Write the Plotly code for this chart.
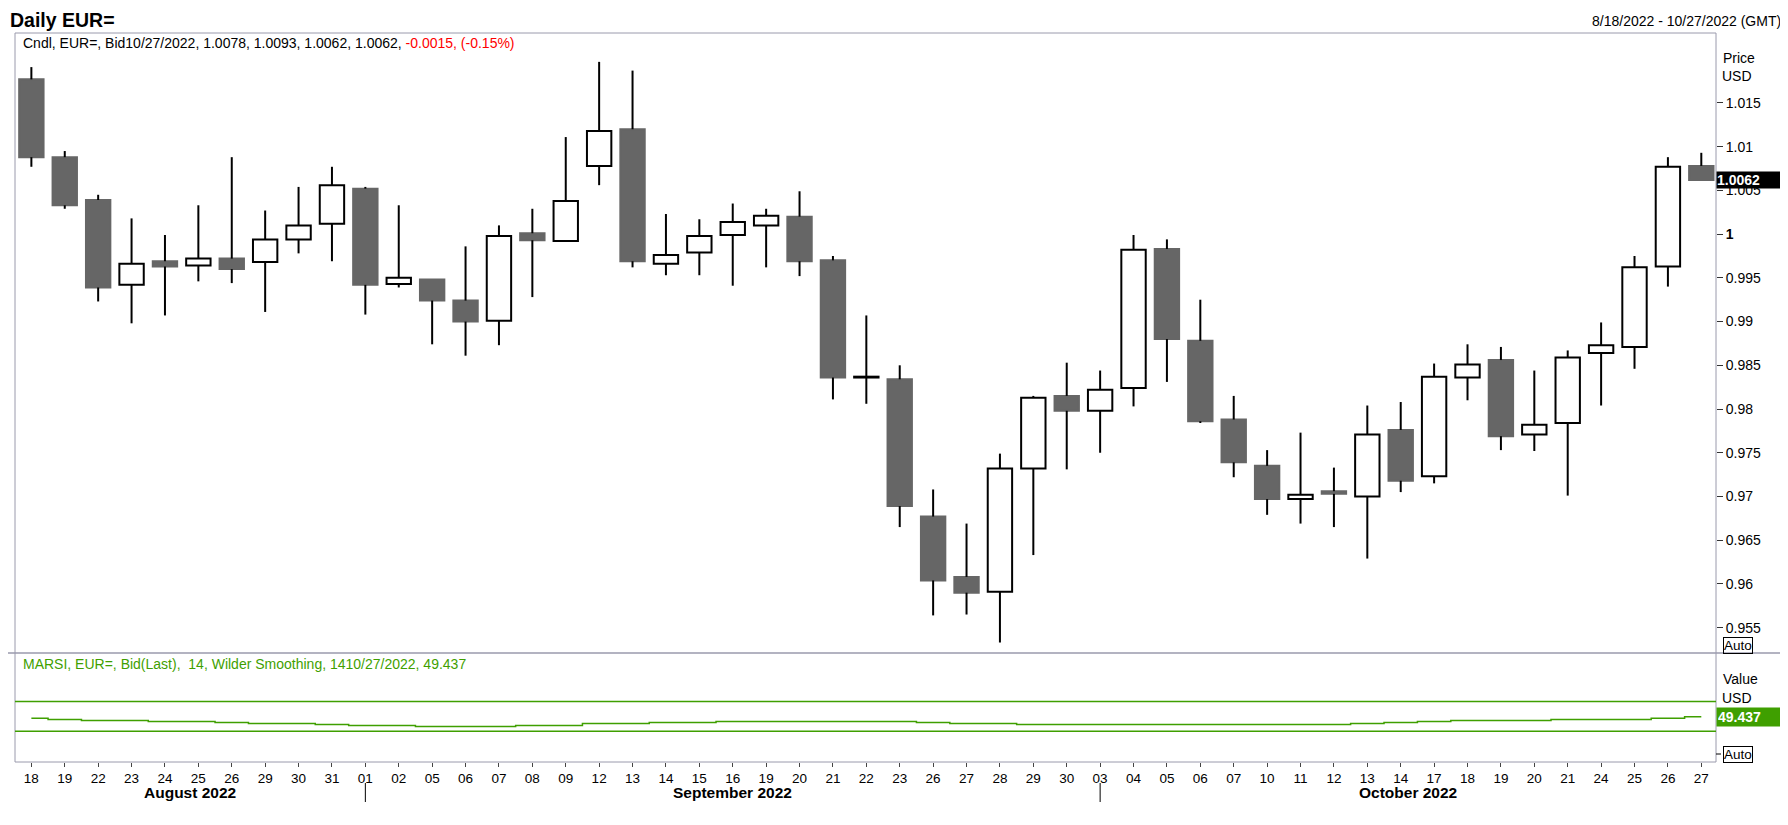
import plotly.graph_objects as go

# ---- data ----
dates = ["2022-08-18", "2022-08-19", "2022-08-22", "2022-08-23", "2022-08-24", "2022-08-25",
         "2022-08-26", "2022-08-29", "2022-08-30", "2022-08-31",
         "2022-09-01", "2022-09-02", "2022-09-05", "2022-09-06", "2022-09-07", "2022-09-08",
         "2022-09-09", "2022-09-12", "2022-09-13", "2022-09-14", "2022-09-15", "2022-09-16",
         "2022-09-19", "2022-09-20", "2022-09-21", "2022-09-22", "2022-09-23", "2022-09-26",
         "2022-09-27", "2022-09-28", "2022-09-29", "2022-09-30",
         "2022-10-03", "2022-10-04", "2022-10-05", "2022-10-06", "2022-10-07", "2022-10-10",
         "2022-10-11", "2022-10-12", "2022-10-13", "2022-10-14", "2022-10-17", "2022-10-18",
         "2022-10-19", "2022-10-20", "2022-10-21", "2022-10-24", "2022-10-25", "2022-10-26",
         "2022-10-27"]

opens = [1.0177, 1.0088, 1.0039, 0.9942, 0.9969, 0.9964, 0.9972, 0.9968, 0.9994, 1.0012,
         1.0052, 0.9943, 0.9948, 0.9924, 0.9901, 1.0001, 0.9992, 1.0078, 1.0120, 0.9966,
         0.9979, 0.9999, 1.0010, 1.0020, 0.9970, 0.9836, 0.9834, 0.9677, 0.9608, 0.9591,
         0.9732, 0.9815, 0.9798, 0.9824, 0.9983, 0.9878, 0.9788, 0.9735, 0.9697, 0.9706,
         0.9700, 0.9776, 0.9723, 0.9836, 0.9856, 0.9771, 0.9784, 0.9864, 0.9871, 0.9963,
         1.0078]
highs = [1.0191, 1.0095, 1.0045, 1.0018, 0.9999, 1.0033, 1.0088, 1.0027, 1.0054, 1.0077,
         1.0054, 1.0033, 0.9948, 0.9986, 1.0010, 1.0029, 1.0111, 1.0197, 1.0187, 1.0023,
         1.0017, 1.0035, 1.0029, 1.0049, 0.9975, 0.9907, 0.9850, 0.9708, 0.9669, 0.9749,
         0.9815, 0.9853, 0.9844, 0.9999, 0.9994, 0.9925, 0.9815, 0.9753, 0.9773, 0.9733,
         0.9804, 0.9808, 0.9852, 0.9874, 0.9871, 0.9844, 0.9867, 0.9899, 0.9975, 1.0088,
         1.0093]
lows = [1.0077, 1.0029, 0.9923, 0.9898, 0.9907, 0.9946, 0.9944, 0.9911, 0.9978, 0.9969,
        0.9908, 0.9939, 0.9874, 0.9861, 0.9873, 0.9928, 0.9992, 1.0056, 0.9962, 0.9953,
        0.9953, 0.9941, 0.9962, 0.9952, 0.9811, 0.9806, 0.9665, 0.9564, 0.9565, 0.9533,
        0.9633, 0.9731, 0.9750, 0.9803, 0.9831, 0.9784, 0.9722, 0.9679, 0.9669, 0.9665,
        0.9629, 0.9705, 0.9715, 0.9810, 0.9753, 0.9752, 0.9701, 0.9804, 0.9846, 0.9940,
        1.0062]
closes = [1.0088, 1.0033, 0.9939, 0.9966, 0.9963, 0.9972, 0.9960, 0.9994, 1.0010, 1.0056,
          0.9942, 0.9950, 0.9924, 0.9900, 0.9998, 0.9993, 1.0038, 1.0118, 0.9969, 0.9976,
          0.9998, 1.0014, 1.0021, 0.9969, 0.9836, 0.9837, 0.9689, 0.9604, 0.9590, 0.9732,
          0.9813, 0.9798, 0.9822, 0.9982, 0.9880, 0.9786, 0.9739, 0.9697, 0.9702, 0.9703,
          0.9771, 0.9718, 0.9837, 0.9851, 0.9769, 0.9782, 0.9859, 0.9873, 0.9962, 1.0077,
          1.0062]

rsi = [47.3, 45.9, 44.5, 44.5, 43.2, 43.2, 41.8, 40.5, 40.5, 39.1,
       37.7, 37.7, 36.4, 36.4, 36.4, 37.7, 37.7, 40.5, 40.5, 41.8,
       41.8, 43.2, 43.2, 43.2, 43.2, 43.2, 43.2, 41.8, 40.5, 40.5,
       39.1, 39.1, 39.1, 39.1, 39.1, 39.1, 39.1, 39.1, 39.1, 39.1,
       40.5, 41.8, 43.2, 44.5, 44.5, 44.5, 45.9, 45.9, 45.9, 47.3,
       49.437]
rsi_upper = 70
rsi_lower = 30

price_ticks = [0.955, 0.96, 0.965, 0.97, 0.975, 0.98, 0.985, 0.99, 0.995, 1.0,
               1.005, 1.01, 1.015]
price_tick_text = ["0.955", "0.96", "0.965", "0.97", "0.975", "0.98", "0.985", "0.99",
                   "0.995", "<b>1</b>", "1.005", "1.01", "1.015"]
month_names = {"08": "August 2022", "09": "September 2022", "10": "October 2022"}

# ---- styling ----
# the page body keeps its 8px margin, so the figure is 16px smaller than the window
# and every reference pixel position is shifted by that margin
PAD = 8
W, H = 1788 - 2 * PAD, 825 - 2 * PAD
FONT = "Liberation Sans, Arial, sans-serif"
FRAME = "#9a9aac"
GREY = "#666666"
GREEN = "#3f9f00"


def px(y):
    return 1 - (y - PAD) / H


def pxx(x):
    return (x - PAD) / W


up = [c > o for o, c in zip(opens, closes)]
body_top = [max(o, c) for o, c in zip(opens, closes)]
body_base = [min(o, c) for o, c in zip(opens, closes)]
body_len = [t - b for t, b in zip(body_top, body_base)]
body_fill = ["white" if u else GREY for u in up]
body_line = ["black" if u else GREY for u in up]

# wicks go from the body to the high and from the body to the low
# (bars are always drawn under scatter lines, so the wick must not cross the body)
wick_x, wick_y = [], []
for d, lo, hi, bt, bb in zip(dates, lows, highs, body_top, body_base):
    if hi > bt:
        wick_x += [d, d, None]
        wick_y += [bt, hi, None]
    if lo < bb:
        wick_x += [d, d, None]
        wick_y += [lo, bb, None]

fig = go.Figure()
fig.add_trace(go.Bar(x=dates, y=body_len, base=body_base, width=0.73,
                     marker=dict(color=body_fill, line=dict(color=body_line, width=2)),
                     xaxis="x", yaxis="y"))
fig.add_trace(go.Scatter(x=wick_x, y=wick_y, mode="lines", line=dict(color="black", width=2),
                         xaxis="x", yaxis="y", hoverinfo="skip"))
fig.add_trace(go.Scatter(x=dates, y=rsi, mode="lines", line=dict(color=GREEN, width=1.5, shape="hvh"),
                         xaxis="x2", yaxis="y2"))

x_range = [-0.49, len(dates) - 0.56]
xdom = [pxx(15), pxx(1716)]

fig.update_layout(
    width=W, height=H, margin=dict(l=0, r=0, t=0, b=0),
    paper_bgcolor="white", plot_bgcolor="white", showlegend=False,
    font=dict(family=FONT, size=14, color="black"),
    xaxis=dict(domain=xdom, anchor="y", type="category", range=x_range,
               showticklabels=False, ticks="", showgrid=False, zeroline=False),
    xaxis2=dict(domain=xdom, anchor="y2", type="category", range=x_range, matches="x",
                tickvals=dates, ticktext=[d[-2:] for d in dates], ticks="outside",
                ticklen=4, tickcolor="#444", tickfont=dict(size=13.5), showgrid=False),
    yaxis=dict(domain=[px(653), px(33)], anchor="x", side="right", range=[0.9521, 1.0230],
               tickvals=price_ticks, ticktext=price_tick_text, ticks="outside", ticklen=6,
               tickcolor="#333", tickfont=dict(size=14), showgrid=False, zeroline=False),
    yaxis2=dict(domain=[px(762), px(653)], anchor="x2", side="right", range=[-11.5, 135.3],
                showticklabels=False, ticks="", showgrid=False, zeroline=False),
)

shapes = [
    dict(type="rect", xref="paper", yref="paper", x0=xdom[0], x1=xdom[1], y0=px(762), y1=px(33),
         line=dict(color=FRAME, width=1)),
    dict(type="line", xref="paper", yref="paper", x0=0, x1=1, y0=px(653), y1=px(653),
         line=dict(color=FRAME, width=1.5)),
]
for level in (rsi_upper, rsi_lower):
    shapes.append(dict(type="line", xref="x2 domain", yref="y2", x0=0, x1=1, y0=level, y1=level,
                       line=dict(color=GREEN, width=1.5)))

# month separators and month labels
starts = [i for i in range(len(dates)) if i == 0 or dates[i][5:7] != dates[i - 1][5:7]]
bounds = [x_range[0]] + starts[1:] + [x_range[1]]
annotations = []
for k, s in enumerate(starts):
    if k > 0:
        shapes.append(dict(type="line", xref="x2", yref="paper", x0=s, x1=s, y0=px(802), y1=px(783),
                           line=dict(color="black", width=1)))
    annotations.append(dict(x=(bounds[k] + bounds[k + 1]) / 2, xref="x2", y=px(792), yref="paper",
                            text="<b>%s</b>" % month_names[dates[s][5:7]], showarrow=False,
                            font=dict(size=15.5), xanchor="center", yanchor="middle"))

last = len(dates) - 1
chg = closes[last] - closes[last - 1]
pct = chg / closes[last - 1] * 100


def us_date(d):
    y, m, dd = d.split("-")
    return "%d/%d/%s" % (int(m), int(dd), y)


legend_txt = ("Cndl, EUR=, Bid%s, %.4f, %.4f, %.4f, %.4f, <span style='color:#ff0000'>%.4f, (%.2f%%)</span>"
              % (us_date(dates[last]), opens[last], highs[last], lows[last], closes[last], chg, pct))
rsi_txt = "MARSI, EUR=, Bid(Last),  14, Wilder Smoothing, 14%s, %.3f" % (us_date(dates[last]), rsi[last])

annotations += [
    dict(x=pxx(9), y=px(PAD), xref="paper", yref="paper", text="<b>Daily EUR=</b>", showarrow=False,
         xanchor="left", yanchor="top", font=dict(size=19.5), borderpad=0),
    dict(x=pxx(1783), y=px(21), xref="paper", yref="paper",
         text="%s - %s (GMT)" % (us_date(dates[0]), us_date(dates[last])), showarrow=False,
         xanchor="right", yanchor="middle", font=dict(size=14)),
    dict(x=pxx(21), y=px(43), xref="paper", yref="paper", text=legend_txt, showarrow=False,
         xanchor="left", yanchor="middle", font=dict(size=14)),
    dict(x=pxx(21), y=px(664), xref="paper", yref="paper", text=rsi_txt, showarrow=False,
         xanchor="left", yanchor="middle", font=dict(size=14, color=GREEN)),
    dict(x=pxx(1721), y=px(58), xref="paper", yref="paper", text="Price", showarrow=False,
         xanchor="left", yanchor="middle", font=dict(size=14)),
    dict(x=pxx(1720), y=px(76), xref="paper", yref="paper", text="USD", showarrow=False,
         xanchor="left", yanchor="middle", font=dict(size=14)),
    dict(x=pxx(1721), y=px(679), xref="paper", yref="paper", text="Value", showarrow=False,
         xanchor="left", yanchor="middle", font=dict(size=14)),
    dict(x=pxx(1720), y=px(698), xref="paper", yref="paper", text="USD", showarrow=False,
         xanchor="left", yanchor="middle", font=dict(size=14)),
    dict(x=pxx(1723), y=px(645), xref="paper", yref="paper", text="Auto", showarrow=False,
         xanchor="left", yanchor="middle", font=dict(size=13.5), bordercolor="black",
         borderwidth=1, borderpad=0),
    dict(x=pxx(1723), y=px(754), xref="paper", yref="paper", text="Auto", showarrow=False,
         xanchor="left", yanchor="middle", font=dict(size=13.5), bordercolor="black",
         borderwidth=1, borderpad=0),
    dict(x=pxx(1716), y=closes[last], xref="paper", yref="y", text="<b>%.4f</b>" % closes[last],
         showarrow=False, xanchor="left", yanchor="middle", align="left", width=66,
         bgcolor="black", font=dict(size=14, color="white"), borderpad=0),
    dict(x=pxx(1716), y=rsi[last], xref="paper", yref="y2", text="<b>%.3f</b>" % rsi[last],
         showarrow=False, xanchor="left", yanchor="middle", align="left", width=66,
         bgcolor=GREEN, font=dict(size=14, color="white"), borderpad=1),
]
shapes.append(dict(type="line", xref="paper", yref="paper", x0=pxx(1716), x1=pxx(1721),
                   y0=px(754), y1=px(754), line=dict(color="black", width=1)))

fig.update_layout(shapes=shapes, annotations=annotations)
fig.write_html("out.html")
